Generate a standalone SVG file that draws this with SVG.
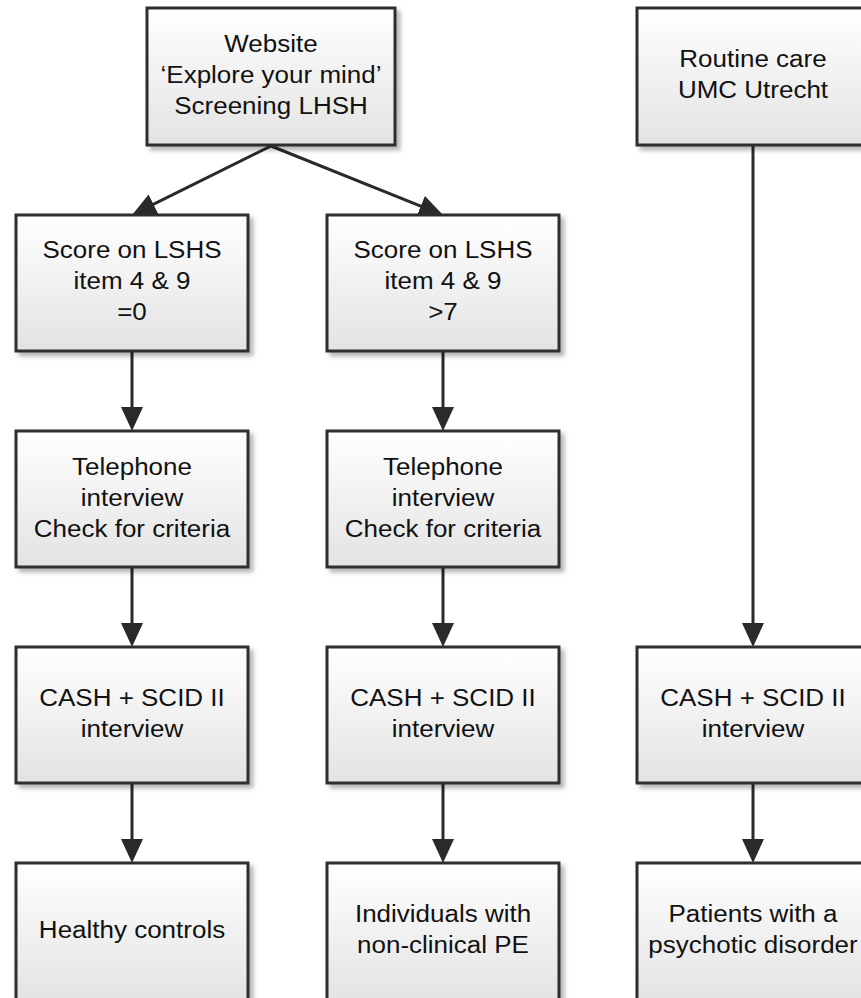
<svg xmlns="http://www.w3.org/2000/svg" width="861" height="998" viewBox="0 0 861 998">
<defs>
<linearGradient id="g" x1="0" y1="0" x2="0" y2="1">
<stop offset="0" stop-color="#ffffff"/>
<stop offset="1" stop-color="#e3e3e3"/>
</linearGradient>
<filter id="sh" x="-10%" y="-10%" width="130%" height="130%">
<feDropShadow dx="4" dy="4" stdDeviation="2" flood-color="#000" flood-opacity="0.28"/>
</filter>
<marker id="ah" markerUnits="userSpaceOnUse" markerWidth="26" markerHeight="24" refX="2" refY="11" orient="auto">
<path d="M0,0 L24,11 L0,22 Z" fill="#2a2a2a"/>
</marker>
<style>
.box{fill:url(#g);stroke:#2e2e2e;stroke-width:3;filter:url(#sh)}
.t{font-family:"Liberation Sans",Arial,sans-serif;font-size:23px;fill:#111;text-anchor:middle}
.c{fill:none;stroke:#2a2a2a;stroke-width:3;marker-end:url(#ah)}
</style>
</defs>
<rect width="861" height="998" fill="#ffffff"/>

<g id="connectors">
<line class="c" x1="271" y1="146" x2="151.7" y2="205.2"/>
<line class="c" x1="271" y1="146" x2="422.6" y2="206.8"/>
<line class="c" x1="753" y1="145" x2="753" y2="625"/>
<line class="c" x1="132" y1="351" x2="132" y2="409"/>
<line class="c" x1="443" y1="351" x2="443" y2="409"/>
<line class="c" x1="132" y1="567" x2="132" y2="625"/>
<line class="c" x1="443" y1="567" x2="443" y2="625"/>
<line class="c" x1="132" y1="783" x2="132" y2="841"/>
<line class="c" x1="443" y1="783" x2="443" y2="841"/>
<line class="c" x1="753" y1="783" x2="753" y2="841"/>
</g>

<g id="website">
<rect class="box" x="147" y="8" width="248" height="137"/>
<text class="t" transform="translate(271,0) scale(1.13,1)"><tspan x="0" y="52">Website</tspan><tspan x="0" y="83">‘Explore your mind’</tspan><tspan x="0" y="114">Screening LHSH</tspan></text>
</g>

<g id="routine">
<rect class="box" x="637" y="8" width="232" height="137"/>
<text class="t" transform="translate(753,0) scale(1.13,1)"><tspan x="0" y="67.5">Routine care</tspan><tspan x="0" y="98.5">UMC Utrecht</tspan></text>
</g>

<g id="score0">
<rect class="box" x="16" y="215" width="232" height="136"/>
<text class="t" transform="translate(132,0) scale(1.13,1)"><tspan x="0" y="258">Score on LSHS</tspan><tspan x="0" y="289">item 4 &amp; 9</tspan><tspan x="0" y="320">=0</tspan></text>
</g>

<g id="score7">
<rect class="box" x="327" y="215" width="232" height="136"/>
<text class="t" transform="translate(443,0) scale(1.13,1)"><tspan x="0" y="258">Score on LSHS</tspan><tspan x="0" y="289">item 4 &amp; 9</tspan><tspan x="0" y="320">&gt;7</tspan></text>
</g>

<g id="tel1">
<rect class="box" x="16" y="431" width="232" height="136"/>
<text class="t" transform="translate(132,0) scale(1.13,1)"><tspan x="0" y="475">Telephone</tspan><tspan x="0" y="506">interview</tspan><tspan x="0" y="537">Check for criteria</tspan></text>
</g>

<g id="tel2">
<rect class="box" x="327" y="431" width="232" height="136"/>
<text class="t" transform="translate(443,0) scale(1.13,1)"><tspan x="0" y="475">Telephone</tspan><tspan x="0" y="506">interview</tspan><tspan x="0" y="537">Check for criteria</tspan></text>
</g>

<g id="cash1">
<rect class="box" x="16" y="647" width="232" height="136"/>
<text class="t" transform="translate(132,0) scale(1.13,1)"><tspan x="0" y="706.5">CASH + SCID II</tspan><tspan x="0" y="737.5">interview</tspan></text>
</g>

<g id="cash2">
<rect class="box" x="327" y="647" width="232" height="136"/>
<text class="t" transform="translate(443,0) scale(1.13,1)"><tspan x="0" y="706.5">CASH + SCID II</tspan><tspan x="0" y="737.5">interview</tspan></text>
</g>

<g id="cash3">
<rect class="box" x="637" y="647" width="232" height="136"/>
<text class="t" transform="translate(753,0) scale(1.13,1)"><tspan x="0" y="706.5">CASH + SCID II</tspan><tspan x="0" y="737.5">interview</tspan></text>
</g>

<g id="healthy">
<rect class="box" x="16" y="863" width="232" height="140"/>
<text class="t" transform="translate(132,0) scale(1.13,1)"><tspan x="0" y="938">Healthy controls</tspan></text>
</g>

<g id="nonclinical">
<rect class="box" x="327" y="863" width="232" height="140"/>
<text class="t" transform="translate(443,0) scale(1.13,1)"><tspan x="0" y="922.5">Individuals with</tspan><tspan x="0" y="953.5">non-clinical PE</tspan></text>
</g>

<g id="patients">
<rect class="box" x="637" y="863" width="232" height="140"/>
<text class="t" transform="translate(753,0) scale(1.13,1)"><tspan x="0" y="922.5">Patients with a</tspan><tspan x="0" y="953.5">psychotic disorder</tspan></text>
</g>
</svg>
